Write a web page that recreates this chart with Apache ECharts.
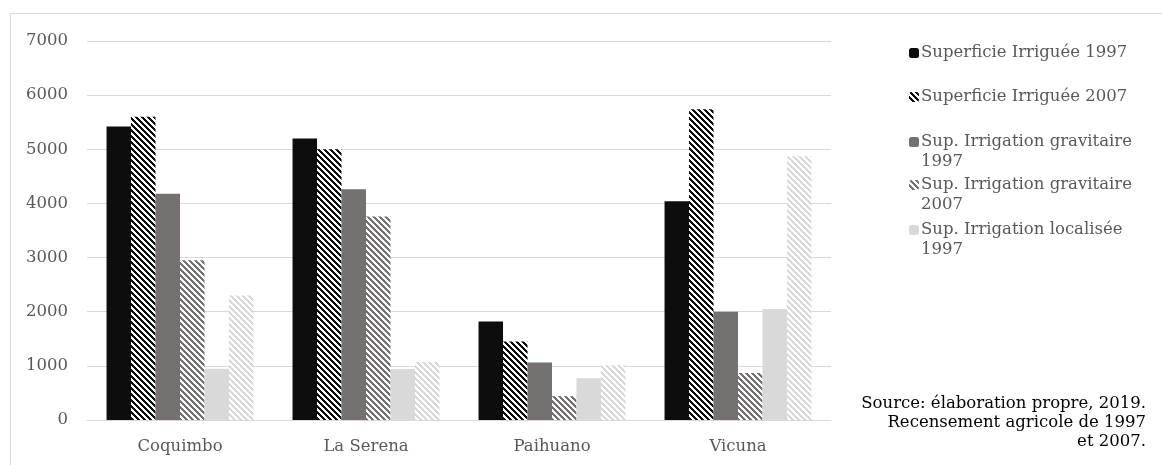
<!DOCTYPE html>
<html lang="fr">
<head>
  <meta charset="UTF-8">
  <title>Superficie irriguée</title>
  <style>
    html, body { margin: 0; padding: 0; background: #fff; }
    #main { width: 1162px; height: 465px; }
  </style>
</head>
<body>
  <div id="main"></div>
  <script src="https://cdn.jsdelivr.net/npm/echarts@6/dist/echarts.min.js"></script>
  <script>
    // données
    var communes = ['Coquimbo', 'La Serena', 'Paihuano', 'Vicuna'];
    var seriesNames = [
      'Superficie Irriguée 1997',
      'Superficie Irriguée 2007',
      'Sup. Irrigation gravitaire 1997',
      'Sup. Irrigation gravitaire 2007',
      'Sup. Irrigation localisée 1997',
      'Sup. Irrigation localisée 2007'
    ];
    var irrig1997 = [5420, 5200, 1820, 4040];
    var irrig2007 = [5600, 5000, 1450, 5740];
    var grav1997 = [4180, 4260, 1060, 2000];
    var grav2007 = [2950, 3760, 440, 870];
    var loc1997 = [945, 940, 770, 2050];
    var loc2007 = [2300, 1070, 1010, 4870];
    var yTicks = { min: 0, max: 7000, interval: 1000 };
    var sourceLines = ['Source: élaboration propre, 2019.', 'Recensement agricole de 1997', 'et 2007.'];

    var FONT = '"DejaVu Serif", "Liberation Serif", serif';
    var FS = 16.5;

    // motif hachuré (diagonales \)
    function hatch(color) {
      var size = 6;
      var c = document.createElement('canvas');
      c.width = size; c.height = size;
      var ctx = c.getContext('2d');
      ctx.fillStyle = '#ffffff';
      ctx.fillRect(0, 0, size, size);
      ctx.fillStyle = color;
      for (var y = 0; y < size; y++) {
        for (var x = 0; x < size; x++) {
          if (((x - y) % size + size) % size < 3) ctx.fillRect(x, y, 1, 1);
        }
      }
      return { image: c, repeat: 'repeat' };
    }

    var colors = [
      '#0d0d0d',
      hatch('#0d0d0d'),
      '#767171',
      hatch('#767171'),
      '#d9d9d9',
      hatch('#d9d9d9')
    ];
    var values = [irrig1997, irrig2007, grav1997, grav2007, loc1997, loc2007];

    var series = values.map(function (v, i) {
      return {
        name: seriesNames[i],
        type: 'bar',
        data: v,
        barGap: '0%',
        barCategoryGap: '21%',
        itemStyle: { color: colors[i] },
        emphasis: { disabled: true }
      };
    });

    // une légende par entrée (la dernière n'apparaît pas)
    var legendTops = [43, 87, 112, 155, 200];
    var wrapped = {};
    wrapped[seriesNames[2]] = '\nSup. Irrigation gravitaire\n1997';
    wrapped[seriesNames[3]] = '\nSup. Irrigation gravitaire\n2007';
    wrapped[seriesNames[4]] = '\nSup. Irrigation localisée\n1997';
    var legends = legendTops.map(function (t, i) {
      return {
        data: [seriesNames[i]],
        left: 909,
        top: t,
        orient: 'vertical',
        itemWidth: 10,
        itemHeight: 10,
        itemGap: 0,
        padding: 0,
        selectedMode: false,
        formatter: function (name) { return wrapped[name] || name; },
        textStyle: {
          fontFamily: FONT,
          fontSize: FS,
          lineHeight: 20,
          color: '#595959',
          padding: [0, 0, 0, -3]
        }
      };
    });

    var sourceText = sourceLines.map(function (s, i) {
      return {
        type: 'text',
        right: 16,
        top: 395 + i * 19,
        silent: true,
        style: { text: s, fontFamily: FONT, fontSize: FS, fill: '#000000' }
      };
    });

    var myChart = echarts.init(document.getElementById('main'));
    myChart.setOption({
      backgroundColor: '#ffffff',
      animation: false,
      textStyle: { fontFamily: FONT },
      grid: { left: 87, right: 331, top: 41, bottom: 45, containLabel: false },
      legend: legends,
      xAxis: {
        type: 'category',
        data: communes,
        axisLine: { lineStyle: { color: '#d9d9d9' } },
        axisTick: { show: false },
        axisLabel: { fontFamily: FONT, fontSize: FS, color: '#595959', margin: 18 }
      },
      yAxis: {
        type: 'value',
        min: yTicks.min,
        max: yTicks.max,
        interval: yTicks.interval,
        axisLine: { show: false },
        axisTick: { show: false },
        splitLine: { lineStyle: { color: '#d9d9d9', width: 1 } },
        axisLabel: {
          fontFamily: FONT, fontSize: FS, color: '#595959', margin: 19,
          formatter: function (v) { return String(v); }
        }
      },
      graphic: [
        {
          type: 'rect',
          left: 8, top: 11, silent: true,
          shape: { width: 1200, height: 500 },
          style: { fill: 'none', stroke: '#d9d9d9', lineWidth: 1 }
        }
      ].concat(sourceText),
      series: series
    });
  </script>
</body>
</html>
